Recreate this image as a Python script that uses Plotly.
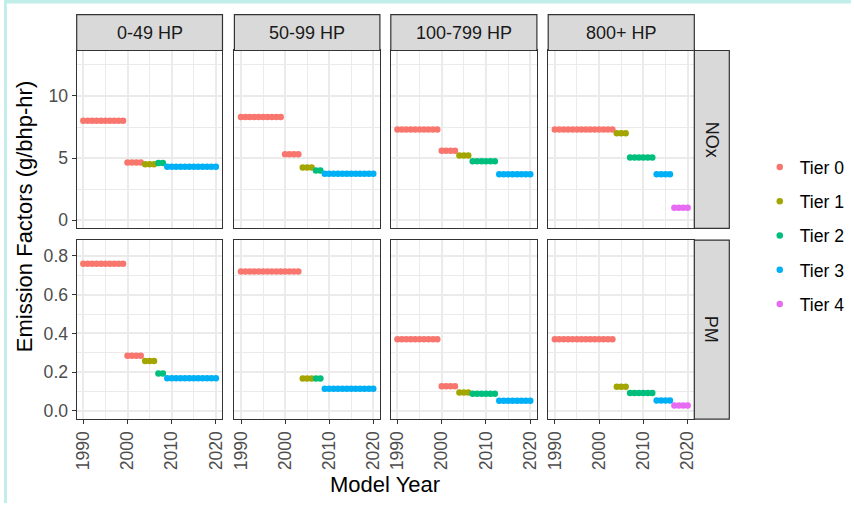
import plotly.graph_objects as go

W, H = 854, 505

years = list(range(1990, 2021))
hp_classes = ["0-49 HP", "50-99 HP", "100-799 HP", "800+ HP"]
pollutants = ["NOx", "PM"]
tier_names = ["Tier 0", "Tier 1", "Tier 2", "Tier 3", "Tier 4"]
tier_colors = ["#F8766D", "#A3A500", "#00BF7D", "#00B0F6", "#E76BF3"]

# tier per model year (1990..2020) for each HP class
tier_0_49 = [0, 0, 0, 0, 0, 0, 0, 0, 0, 0, 0, 0, 0, 0, 1, 1, 1, 2, 2, 3, 3, 3, 3, 3, 3, 3, 3, 3, 3, 3, 3]
tier_50_99 = [0, 0, 0, 0, 0, 0, 0, 0, 0, 0, 0, 0, 0, 0, 1, 1, 1, 2, 2, 3, 3, 3, 3, 3, 3, 3, 3, 3, 3, 3, 3]
tier_100_799 = [0, 0, 0, 0, 0, 0, 0, 0, 0, 0, 0, 0, 0, 0, 1, 1, 1, 2, 2, 2, 2, 2, 2, 3, 3, 3, 3, 3, 3, 3, 3]
tier_800p = [0, 0, 0, 0, 0, 0, 0, 0, 0, 0, 0, 0, 0, 0, 1, 1, 1, 2, 2, 2, 2, 2, 2, 3, 3, 3, 3, 4, 4, 4, 4]

# NOx emission factors (g/bhp-hr), 1990..2020
nox_0_49 = [8.0, 8.0, 8.0, 8.0, 8.0, 8.0, 8.0, 8.0, 8.0, 8.0, 4.65, 4.65, 4.65, 4.65, 4.5, 4.5, 4.5,
            4.6, 4.6, 4.3, 4.3, 4.3, 4.3, 4.3, 4.3, 4.3, 4.3, 4.3, 4.3, 4.3, 4.3]
nox_50_99 = [8.3, 8.3, 8.3, 8.3, 8.3, 8.3, 8.3, 8.3, 8.3, 8.3, 5.3, 5.3, 5.3, 5.3, 4.25, 4.25, 4.25,
             4.0, 4.0, 3.75, 3.75, 3.75, 3.75, 3.75, 3.75, 3.75, 3.75, 3.75, 3.75, 3.75, 3.75]
nox_100_799 = [7.3, 7.3, 7.3, 7.3, 7.3, 7.3, 7.3, 7.3, 7.3, 7.3, 5.6, 5.6, 5.6, 5.6, 5.2, 5.2, 5.2,
               4.75, 4.75, 4.75, 4.75, 4.75, 4.75, 3.7, 3.7, 3.7, 3.7, 3.7, 3.7, 3.7, 3.7]
nox_800p = [7.3, 7.3, 7.3, 7.3, 7.3, 7.3, 7.3, 7.3, 7.3, 7.3, 7.3, 7.3, 7.3, 7.3, 7.0, 7.0, 7.0,
            5.05, 5.05, 5.05, 5.05, 5.05, 5.05, 3.7, 3.7, 3.7, 3.7, 1.0, 1.0, 1.0, 1.0]

# PM emission factors (g/bhp-hr), 1990..2020
pm_0_49 = [0.76, 0.76, 0.76, 0.76, 0.76, 0.76, 0.76, 0.76, 0.76, 0.76, 0.285, 0.285, 0.285, 0.285,
           0.257, 0.257, 0.257, 0.193, 0.193, 0.168, 0.168, 0.168, 0.168, 0.168, 0.168, 0.168, 0.168,
           0.168, 0.168, 0.168, 0.168]
pm_50_99 = [0.72, 0.72, 0.72, 0.72, 0.72, 0.72, 0.72, 0.72, 0.72, 0.72, 0.72, 0.72, 0.72, 0.72,
            0.167, 0.167, 0.167, 0.167, 0.167, 0.115, 0.115, 0.115, 0.115, 0.115, 0.115, 0.115, 0.115,
            0.115, 0.115, 0.115, 0.115]
pm_100_799 = [0.37, 0.37, 0.37, 0.37, 0.37, 0.37, 0.37, 0.37, 0.37, 0.37, 0.127, 0.127, 0.127, 0.127,
              0.095, 0.095, 0.095, 0.089, 0.089, 0.089, 0.089, 0.089, 0.089, 0.053, 0.053, 0.053, 0.053,
              0.053, 0.053, 0.053, 0.053]
pm_800p = [0.37, 0.37, 0.37, 0.37, 0.37, 0.37, 0.37, 0.37, 0.37, 0.37, 0.37, 0.37, 0.37, 0.37,
           0.125, 0.125, 0.125, 0.092, 0.092, 0.092, 0.092, 0.092, 0.092, 0.054, 0.054, 0.054, 0.054,
           0.028, 0.028, 0.028, 0.028]

tiers = [tier_0_49, tier_50_99, tier_100_799, tier_800p]
values = {
    "NOx": [nox_0_49, nox_50_99, nox_100_799, nox_800p],
    "PM": [pm_0_49, pm_50_99, pm_100_799, pm_800p],
}

# ---- layout geometry (pixels) ----
col_x = [(73.3, 220.3), (232.3, 379.0), (390.0, 537.3), (548.7, 696.0)]
row_y = [(50.7, 229.3), (241.0, 420.7)]
strip_top = (14.7, 50.7)
strip_right = (696.0, 731.3)

def px(x):
    return x / W

def py(y):
    return 1 - y / H

BORDER = "#333333"
GRID = "#EBEBEB"
TICKFONT = dict(family="Liberation Sans, Arial, sans-serif", size=17.6, color="#4D4D4D")
FONT = "Liberation Sans, Arial, sans-serif"

fig = go.Figure()
seen = set()
for r, pol in enumerate(pollutants):
    for c in range(4):
        idx = r * 4 + c + 1
        xa = "x" if idx == 1 else f"x{idx}"
        ya = "y" if idx == 1 else f"y{idx}"
        vals = values[pol][c]
        tl = tiers[c]
        for t in range(5):
            xs = [yr for yr, tt in zip(years, tl) if tt == t]
            ys = [v for v, tt in zip(vals, tl) if tt == t]
            if not xs:
                continue
            show = t not in seen
            seen.add(t)
            fig.add_trace(go.Scatter(
                x=xs, y=ys, mode="markers", xaxis=xa, yaxis=ya,
                name=tier_names[t], legendgroup=tier_names[t], showlegend=show,
                legendrank=t + 1,
                marker=dict(color=tier_colors[t], size=6.5, line=dict(width=0)),
            ))

layout = dict(
    width=W, height=H,
    margin=dict(l=0, r=0, t=0, b=0),
    paper_bgcolor="white", plot_bgcolor="white",
    font=dict(family=FONT, color="black"),
    legend=dict(
        x=px(762), y=py(236.4), xanchor="left", yanchor="middle",
        font=dict(family=FONT, size=17.6, color="black"),
        tracegroupgap=8.4, bgcolor="rgba(0,0,0,0)",
    ),
    showlegend=True,
)

for r in range(2):
    for c in range(4):
        idx = r * 4 + c + 1
        xk = "xaxis" if idx == 1 else f"xaxis{idx}"
        yk = "yaxis" if idx == 1 else f"yaxis{idx}"
        xanchor = "y" if idx == 1 else f"y{idx}"
        yanchor = "x" if idx == 1 else f"x{idx}"
        bottom = r == 1
        layout[xk] = dict(
            domain=[px(col_x[c][0]), px(col_x[c][1])], anchor=xanchor,
            range=[1988.5, 2021.5], tick0=1990, dtick=10,
            showgrid=True, gridcolor=GRID, gridwidth=1.5, zeroline=False,
            minor=dict(dtick=5, tick0=1990, showgrid=True, gridcolor=GRID, gridwidth=0.8),
            showline=True, linecolor=BORDER, linewidth=1.2, mirror=True,
            ticks="outside" if bottom else "", ticklen=4, tickwidth=1.1, tickcolor=BORDER,
            showticklabels=bottom, tickangle=-90, tickfont=TICKFONT,
        )
        if r == 0:
            yr = [-0.65, 13.65]
            yd = dict(tick0=0, dtick=5, minor=dict(dtick=2.5, tick0=0, showgrid=True, gridcolor=GRID, gridwidth=0.8))
        else:
            yr = [-0.042, 0.882]
            yd = dict(tick0=0, dtick=0.2, tickformat=".1f",
                      minor=dict(dtick=0.1, tick0=0, showgrid=True, gridcolor=GRID, gridwidth=0.8))
        left = c == 0
        layout[yk] = dict(
            domain=[py(row_y[r][1]), py(row_y[r][0])], anchor=yanchor,
            range=yr, showgrid=True, gridcolor=GRID, gridwidth=1.5, zeroline=False,
            showline=True, linecolor=BORDER, linewidth=1.2, mirror=True,
            ticks="outside" if left else "", ticklen=4, tickwidth=1.1, tickcolor=BORDER,
            showticklabels=left, tickfont=TICKFONT, **yd,
        )

shapes = []
annotations = []
# screenshot frame tint
shapes.append(dict(type="rect", xref="paper", yref="paper", x0=0, x1=1, y0=py(3.5), y1=1,
                   fillcolor="#C2EEE9", line=dict(width=0), layer="below"))
shapes.append(dict(type="rect", xref="paper", yref="paper", x0=0, x1=px(3), y0=0, y1=1,
                   fillcolor="#C2EEE9", line=dict(width=0), layer="below"))

for c, lab in enumerate(hp_classes):
    shapes.append(dict(type="rect", xref="paper", yref="paper",
                       x0=px(col_x[c][0]), x1=px(col_x[c][1]),
                       y0=py(strip_top[1]), y1=py(strip_top[0]),
                       fillcolor="#D9D9D9", line=dict(color=BORDER, width=1.2)))
    annotations.append(dict(text=lab, xref="paper", yref="paper",
                            x=px((col_x[c][0] + col_x[c][1]) / 2), y=py((strip_top[0] + strip_top[1]) / 2),
                            showarrow=False, xanchor="center", yanchor="middle",
                            font=dict(family=FONT, size=18, color="#1A1A1A")))
for r, lab in enumerate(pollutants):
    shapes.append(dict(type="rect", xref="paper", yref="paper",
                       x0=px(strip_right[0]), x1=px(strip_right[1]),
                       y0=py(row_y[r][1]), y1=py(row_y[r][0]),
                       fillcolor="#D9D9D9", line=dict(color=BORDER, width=1.2)))
    annotations.append(dict(text=lab, xref="paper", yref="paper",
                            x=px((strip_right[0] + strip_right[1]) / 2), y=py((row_y[r][0] + row_y[r][1]) / 2),
                            showarrow=False, xanchor="center", yanchor="middle", textangle=90,
                            font=dict(family=FONT, size=18, color="#1A1A1A")))

annotations.append(dict(text="Model Year", xref="paper", yref="paper",
                        x=px(384.6), y=py(486), showarrow=False, xanchor="center", yanchor="middle",
                        font=dict(family=FONT, size=22, color="black")))
annotations.append(dict(text="Emission Factors (g/bhp-hr)", xref="paper", yref="paper",
                        x=px(21.5), y=py(217.7), showarrow=False, xanchor="center", yanchor="middle",
                        textangle=-90, font=dict(family=FONT, size=22, color="black")))

layout["shapes"] = shapes
layout["annotations"] = annotations
fig.update_layout(**layout)
fig.write_html("out.html")
